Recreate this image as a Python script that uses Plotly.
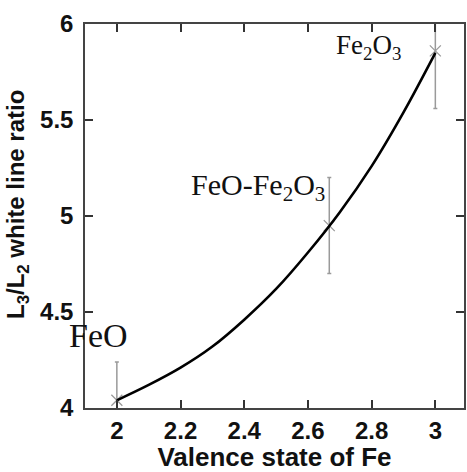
import plotly.graph_objects as go

# Curve
curve_x = [2.0, 2.1, 2.2, 2.3, 2.4, 2.5, 2.6, 2.7, 2.8, 2.9, 3.0]
curve_y = [4.04, 4.12, 4.21, 4.32, 4.46, 4.62, 4.81, 5.02, 5.26, 5.54, 5.85]

# Measured points with error bars
pt_x = [2.0, 2.667, 3.0]
pt_y = [4.04, 4.95, 5.86]
pt_err = [0.20, 0.25, 0.30]

labels = ["FeO", "FeO-Fe<sub>2</sub>O<sub>3</sub>", "Fe<sub>2</sub>O<sub>3</sub>"]
label_x = [1.941, 2.442, 2.79]
label_y = [4.38, 5.15, 5.88]
label_size = [34, 30, 27]

fig = go.Figure()
fig.add_trace(go.Scatter(
    x=pt_x, y=pt_y, mode="markers",
    marker=dict(symbol="x-thin", size=11, line=dict(width=1.3, color="#9a9a9a")),
    error_y=dict(type="data", array=pt_err, color="#9a9a9a", thickness=1.5, width=2),
    showlegend=False, cliponaxis=True,
))
fig.add_trace(go.Scatter(
    x=curve_x, y=curve_y, mode="lines",
    line=dict(color="black", width=2.6, shape="spline", smoothing=1.0),
    showlegend=False,
))

for t, x, y, s in zip(labels, label_x, label_y, label_size):
    fig.add_annotation(x=x, y=y, text=t, showarrow=False,
                       font=dict(family="Liberation Serif", size=s, color="#111"),
                       xanchor="center", yanchor="middle")

fig.add_annotation(xref="paper", yref="paper", x=-0.178, y=0.53,
                   text="L<sub>3</sub>/L<sub>2</sub> white line ratio",
                   textangle=-90, showarrow=False,
                   font=dict(family="Liberation Sans", size=24, color="#111", weight="bold"),
                   xanchor="center", yanchor="middle")

axis_common = dict(
    showline=True, linecolor="#444", linewidth=1.5, mirror="ticks",
    ticks="inside", tickcolor="#333", tickwidth=2, ticklen=8,
    showgrid=False, zeroline=False,
    tickfont=dict(family="Liberation Sans", size=24, color="#111", weight="bold"),
)

fig.update_xaxes(range=[1.9, 3.09], tick0=2, dtick=0.2,
                 title=dict(text="Valence state of Fe", standoff=4,
                            font=dict(family="Liberation Sans", size=26, color="#111", weight="bold")),
                 **axis_common)
fig.update_yaxes(range=[4, 6], tick0=4, dtick=0.5, ticklabelstandoff=5,
                 **axis_common)

fig.update_layout(
    width=467, height=472,
    margin=dict(l=85, r=1, t=24, b=64),
    plot_bgcolor="white", paper_bgcolor="white",
)

fig.write_html("out.html")
